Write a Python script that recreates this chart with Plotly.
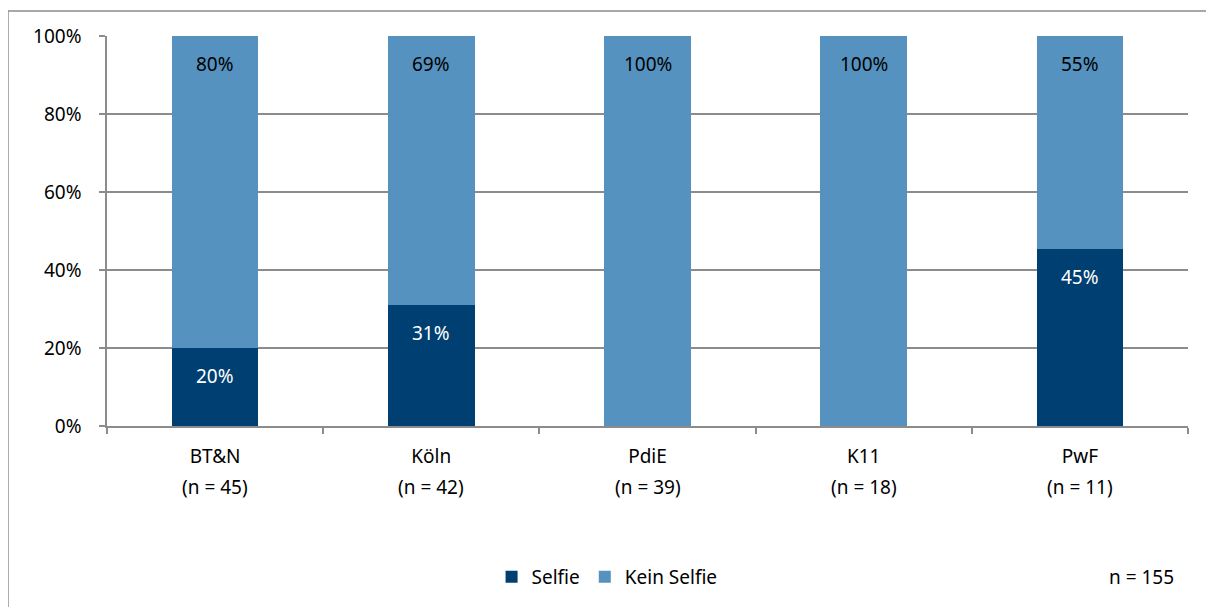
import plotly.graph_objects as go

categories = ["BT&N", "Köln", "PdiE", "K11", "PwF"]
sample_sizes = [45, 42, 39, 18, 11]
selfie = [20.0, 30.95, 0.0, 0.0, 45.45]
kein_selfie = [80.0, 69.05, 100.0, 100.0, 54.55]
total_n = 155
y_ticks = [0, 20, 40, 60, 80, 100]

dark = "#003F72"
light = "#5592BF"
font_family = "Noto Sans, Open Sans, sans-serif"
grid = "#8C8C8C"
fs = 19

fig = go.Figure()
fig.add_trace(go.Bar(x=categories, y=selfie, name="Selfie", marker=dict(color=dark, line=dict(width=0)),
                     width=0.4, hoverinfo="skip"))
fig.add_trace(go.Bar(x=categories, y=kein_selfie, name="Kein Selfie", marker=dict(color=light, line=dict(width=0)),
                     width=0.4, hoverinfo="skip"))

# value labels near the top of each segment
for c, s, k in zip(categories, selfie, kein_selfie):
    if s > 0:
        fig.add_annotation(x=c, y=s, text=f"{round(s)}%", showarrow=False, yshift=-28,
                           font=dict(color="white", size=fs, family=font_family))
    if k > 0:
        fig.add_annotation(x=c, y=s + k, text=f"{round(k)}%", showarrow=False, yshift=-28,
                           font=dict(color="black", size=fs, family=font_family))

# second line of category labels
for c, n in zip(categories, sample_sizes):
    fig.add_annotation(x=c, y=0, yref="paper", text=f"(n = {n})", showarrow=False, yshift=-61,
                       yanchor="middle", font=dict(color="black", size=fs, family=font_family))

fig.add_annotation(x=1.0, xref="paper", y=-0.387, yref="paper", xanchor="right", yanchor="middle",
                   text=f"n = {total_n}", showarrow=False, xshift=-12,
                   font=dict(color="black", size=fs, family=font_family))

# outer chart border
fig.add_shape(type="rect", xref="paper", yref="paper", x0=-0.0916, x1=1.2, y0=-0.6, y1=1.064,
              line=dict(color=grid, width=1.5), fillcolor="rgba(0,0,0,0)", layer="below")

fig.update_layout(
    barmode="stack",
    width=1214, height=607,
    margin=dict(l=99, r=34, t=28, b=189),
    plot_bgcolor="white", paper_bgcolor="white",
    font=dict(family=font_family, size=fs, color="black"),
    legend=dict(orientation="h", x=0.4626, xanchor="center", y=-0.387, yanchor="middle",
                font=dict(size=fs, family=font_family), traceorder="normal",
                bgcolor="rgba(0,0,0,0)"),
    showlegend=True,
)
fig.update_yaxes(range=[0, 100], tickmode="array", tickvals=y_ticks, ticktext=[f"{v}%" for v in y_ticks],
                 showgrid=True, gridcolor=grid, gridwidth=1.5,
                 showline=True, linecolor=grid, linewidth=1.5,
                 ticks="outside", ticklen=6, tickcolor=grid, tickwidth=1.5,
                 zeroline=False, ticklabelstandoff=14)
fig.update_xaxes(showgrid=False, showline=True, linecolor=grid, linewidth=1.5,
                 ticks="outside", ticklen=6, tickcolor=grid, tickwidth=1.5,
                 tickson="boundaries", ticklabelstandoff=12)

fig.write_html("out.html")
